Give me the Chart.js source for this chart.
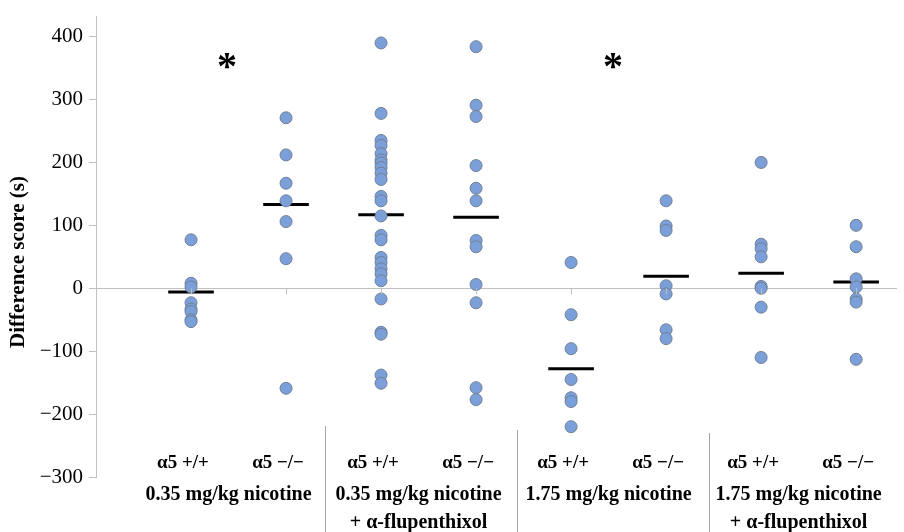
<!DOCTYPE html>
<html>
<head>
<meta charset="utf-8">
<script src="https://cdn.jsdelivr.net/npm/chart.js@4"></script>
<style>
  html, body { margin: 0; padding: 0; background: #fff; }
  #wrap { width: 904px; height: 532px; position: relative; }
</style>
</head>
<body>
<div id="wrap"><canvas id="chart"></canvas></div>
<script>
// genotype under each column, and the treatment groups (two columns each)
const genotypes = ['α5 +/+', 'α5 −/−', 'α5 +/+', 'α5 −/−', 'α5 +/+', 'α5 −/−', 'α5 +/+', 'α5 −/−'];
const groupLabels = [
    ['0.35 mg/kg nicotine'],
    ['0.35 mg/kg nicotine', '+ α-flupenthixol'],
    ['1.75 mg/kg nicotine'],
    ['1.75 mg/kg nicotine', '+ α-flupenthixol']
];
// individual difference scores (s) per column
const scores = [
    [77, 8, 2, -23, -33, -37, -50, -53],
    [271, 212, 167, 139, 106, 47, -159],
    [390, 278, 235, 227, 214, 204, 199, 192, 183, 173, 146, 139, 115, 84, 77, 49, 41, 31, 23, 12, -17, -70, -73, -138, -151],
    [384, 291, 273, 195, 159, 139, 76, 66, 6, -23, -158, -177],
    [41, -42, -96, -145, -174, -180, -220],
    [139, 99, 92, 4, -9, -66, -80],
    [200, 70, 63, 50, 3, 0, -30, -110],
    [100, 66, 15, 2, -17, -22, -113]
];
// group means (horizontal bars)
const means = [-6, 133, 117, 113, -128, 19, 24, 10];
// significance marks
const stars = [{ x: 1.38, y: 355 }, { x: 5.44, y: 355 }];
const yTicks = [-300, -200, -100, 0, 100, 200, 300, 400];
const yTitle = 'Difference score (s)';

const axisGray = '#bfbfbf';
const serif = '"Liberation Serif", "Times New Roman", serif';

const datasets = [];
scores.forEach((vals, i) => {
    datasets.push({
        type: 'scatter',
        data: vals.map(v => ({ x: i + 1, y: v })),
        backgroundColor: '#7ba0d9',
        borderColor: '#6f7f95',
        borderWidth: 1,
        pointRadius: 6,
        pointHoverRadius: 6
    });
});
means.forEach((m, i) => {
    datasets.push({
        type: 'line',
        data: [{ x: i + 1 - 0.24, y: m }, { x: i + 1 + 0.24, y: m }],
        borderColor: '#000',
        borderWidth: 3,
        pointRadius: 0,
        fill: false
    });
});

// extra drawing: ticks on the zero line, asterisks, column/group labels, separators, y title
const extras = {
    id: 'extras',
    afterDatasetsDraw(chart) {
        const ctx = chart.ctx;
        const xs = chart.scales.x, ys = chart.scales.y;
        const y0 = ys.getPixelForValue(0);
        ctx.save();
        ctx.strokeStyle = axisGray;
        ctx.lineWidth = 1;
        for (let i = 1; i <= 8; i++) {
            const px = Math.round(xs.getPixelForValue(i)) + 0.5;
            ctx.beginPath();
            ctx.moveTo(px, y0);
            ctx.lineTo(px, y0 + 6);
            ctx.stroke();
        }
        ctx.fillStyle = '#000';
        ctx.textAlign = 'center';
        ctx.textBaseline = 'middle';
        ctx.font = 'bold 40px ' + serif;
        stars.forEach(s => {
            ctx.fillText('*', xs.getPixelForValue(s.x), ys.getPixelForValue(s.y) + 4);
        });
        ctx.font = 'bold 19px ' + serif;
        genotypes.forEach((g, i) => {
            ctx.fillText(g, xs.getPixelForValue(i + 1) - 8, 463);
        });
        ctx.font = 'bold 20px ' + serif;
        groupLabels.forEach((lines, i) => {
            const cx = xs.getPixelForValue(2 * i + 1.5) - 10;
            lines.forEach((t, j) => ctx.fillText(t, cx, 495 + j * 28));
        });
        ctx.strokeStyle = '#a6a6a6';
        [[2.5, 426, -8.6], [4.5, 430, -6.3], [6.5, 433, -5]].forEach(([v, top, off]) => {
            const px = Math.round(xs.getPixelForValue(v) + off) + 0.5;
            ctx.beginPath();
            ctx.moveTo(px, top);
            ctx.lineTo(px, 532);
            ctx.stroke();
        });
        // y axis title
        ctx.translate(19, 262);
        ctx.rotate(-Math.PI / 2);
        ctx.font = 'bold 21px ' + serif;
        ctx.fillText(yTitle, 0, 0);
        ctx.restore();
    }
};

new Chart(document.getElementById('chart'), {
    data: { datasets: datasets },
    options: {
        responsive: true,
        maintainAspectRatio: false,
        animation: false,
        layout: { padding: { top: 13, right: 0, bottom: 55, left: 0 } },
        plugins: { legend: { display: false }, tooltip: { enabled: false } },
        scales: {
            x: {
                type: 'linear',
                min: 0,
                max: 8.43,
                display: false
            },
            y: {
                min: -300,
                max: 432,
                afterBuildTicks: scale => {
                    scale.ticks = yTicks.map(v => ({ value: v }));
                },
                afterFit: scale => { scale.width = 96; },
                ticks: {
                    color: '#000',
                    font: { family: serif, size: 21, lineHeight: 1 },
                    padding: 6,
                    callback: v => (v < 0 ? '−' + Math.abs(v) : String(v))
                },
                grid: {
                    color: ctx => (ctx.tick && ctx.tick.value === 0 ? axisGray : 'rgba(0,0,0,0)'),
                    tickColor: axisGray,
                    tickLength: 7,
                    drawOnChartArea: true
                },
                border: { color: axisGray }
            }
        }
    },
    plugins: [extras]
});
</script>
</body>
</html>
